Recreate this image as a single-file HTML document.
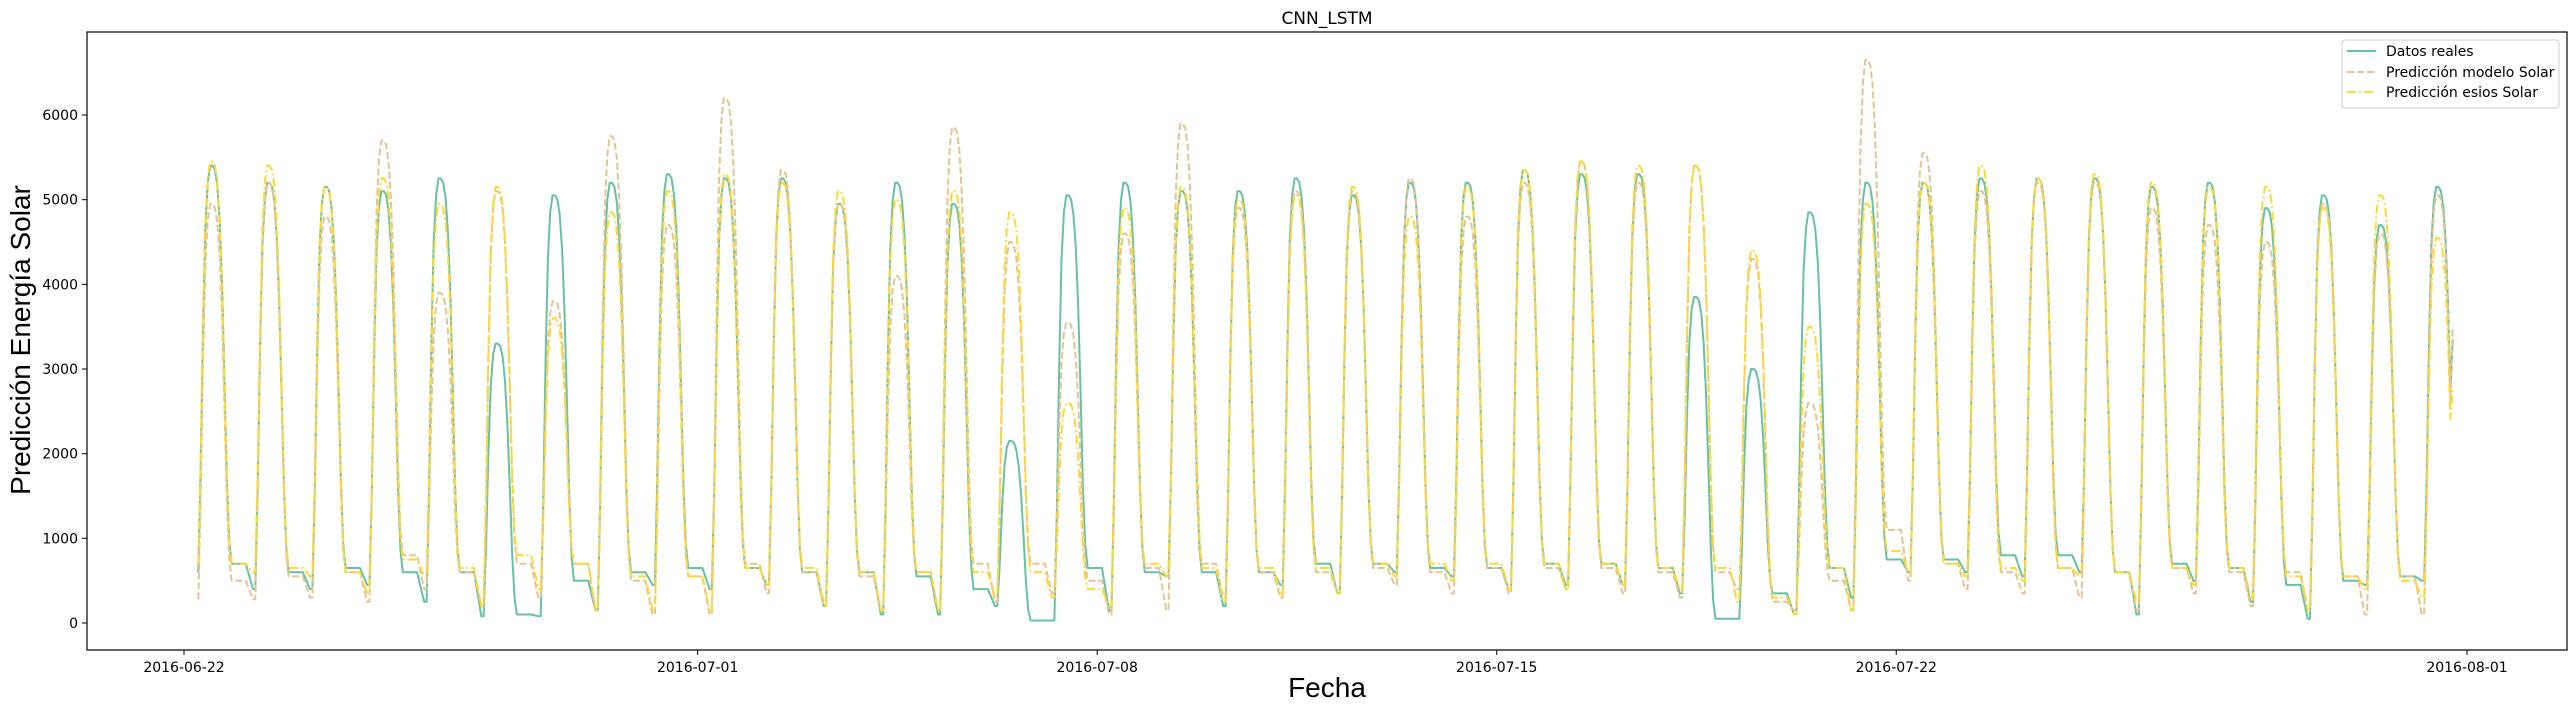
<!DOCTYPE html>
<html><head><meta charset="utf-8"><style>
html,body{margin:0;padding:0;background:#fff;}
svg{display:block;font-family:"DejaVu Sans","Liberation Sans",sans-serif;}
</style></head><body>
<svg id="chart" width="2575" height="711" viewBox="0 0 2575 711" xmlns="http://www.w3.org/2000/svg">
<rect x="0" y="0" width="2575" height="711" fill="#fff"/>
<text x="1327" y="24" font-size="17" text-anchor="middle" fill="#000">CNN_LSTM</text>
<g id="plot"></g>
<g id="axes"></g>
<text transform="translate(30,340) rotate(-90)" font-size="28" text-anchor="middle" font-family="Liberation Sans, sans-serif" fill="#000">Predicción Energía Solar</text>
<text x="1327" y="697" font-size="28" text-anchor="middle" font-family="Liberation Sans, sans-serif" fill="#000">Fecha</text>
<g>
<rect x="2342" y="40" width="217" height="68" rx="3" fill="#fff" fill-opacity="0.8" stroke="#ccc" stroke-width="1"/>
<g><line x1="2347" y1="51" x2="2376" y2="51" stroke="#66c2a5" stroke-width="2"/><text x="2386" y="56" font-size="14">Datos reales</text></g>
<g><line x1="2347" y1="72" x2="2376" y2="72" stroke="#e5c494" stroke-width="2" stroke-dasharray="7,3"/><text x="2386" y="77" font-size="14">Predicción modelo Solar</text></g>
<g><line x1="2347" y1="92" x2="2376" y2="92" stroke="#ffd92f" stroke-width="2" stroke-dasharray="9,3,2,3"/><text x="2386" y="97" font-size="14">Predicción esios Solar</text></g>
</g>
</svg>
<script>
const realPeak  = [5400,5200,5150,5100,5250,3300,5050,5200,5300,5250,5250,4950,5200,4950,2150,5050,5200,5100,5100,5250,5050,5200,5200,5350,5300,5300,3850,3000,4850,5200,5200,5250,5250,5250,5150,5200,4900,5050,4700,5150];
const modelPeak = [4950,5200,4800,5700,3900,5100,3800,5750,4700,6200,5350,4950,4100,5850,4500,3550,4600,5900,4900,5100,5100,5250,4800,5200,5450,5200,5400,4300,2600,6650,5550,5100,5200,5200,4900,4700,4500,4950,4600,5050];
const esiosPeak = [5450,5400,5150,5250,4950,5150,3600,4850,5100,5300,5200,5100,5000,5100,4850,2600,4900,5150,5000,5050,5150,4800,5150,5350,5450,5400,5400,4400,3500,4950,5200,5400,5250,5300,5200,5150,5150,4900,5050,4550];
const realEve   = [700,600,650,600,600,100,500,600,650,650,600,600,550,400,30,650,600,600,600,700,700,650,650,700,700,650,50,350,650,750,750,800,800,600,700,650,450,500,550,600];
const realDawn  = [400,400,450,250,80,80,150,450,400,450,200,100,100,200,30,150,550,200,450,350,600,550,400,450,450,350,50,100,300,600,600,550,600,100,500,250,50,450,500,500];
const modelEve  = [500,550,600,800,600,700,700,500,550,700,600,550,600,700,700,500,650,700,600,600,650,600,650,650,650,600,600,250,500,1100,700,600,650,600,650,600,600,550,550,500];
const modelDawn = [280,300,250,400,200,300,150,100,100,350,250,150,150,250,350,100,150,300,300,350,450,350,350,400,350,300,400,150,150,500,400,350,300,150,350,200,150,100,100,150];
const esiosEve  = [700,650,600,750,650,800,700,550,550,650,650,600,600,600,600,400,700,650,650,650,700,700,700,700,700,650,650,300,650,850,700,650,650,600,650,650,550,550,500,500];
const esiosDawn = [600,550,350,550,200,400,150,150,150,450,200,150,150,300,300,200,550,250,350,350,550,500,400,400,450,400,250,100,150,600,550,500,550,250,450,300,150,400,300,300];
const endReal = 3350, endModel = 3500, endEsios = 2750;
const startReal = 600, startModel = 280, startEsios = 700;
const tickDates = ["2016-06-22","2016-07-01","2016-07-08","2016-07-15","2016-07-22","2016-08-01"];
const tickDays = [0,9,16,23,30,40];
const yTicks = [0,1000,2000,3000,4000,5000,6000];

const L=87,R=2567,T=32,B=650;
const X0=184, PXDAY=(2467-184)/40;
const xs = d => X0 + d*PXDAY;
const ys = v => 623 - v*(623-115)/6000;
const NS="http://www.w3.org/2000/svg";
const plot=document.getElementById('plot'), axes=document.getElementById('axes');
// diurnal shape template (fraction of daily amplitude by hour)
const prof={6:0,7:0.25,8:0.6,9:0.85,10:0.96,11:1.0,12:1.0,13:0.99,14:0.95,15:0.86,16:0.7,17:0.47,18:0.22,19:0.06,20:0};
function series(peak,eve,dawn,startV,endV){
  const pts=[];
  for(let h=6; h<=39*24+18; h++){
    const d=Math.floor(h/24), hr=h%24;
    let v;
    if(hr>=6 && hr<=20){
      const pd = d>0 ? dawn[d-1] : startV;
      const base = hr<=12 ? pd : eve[d];
      v = base + (peak[d]-base)*prof[hr];
    } else if(hr>20){ v=eve[d]; }
    else { const pe=d>0?eve[d-1]:startV, pw=d>0?dawn[d-1]:startV; v = hr<3?pe : pe+(pw-pe)*(hr-2)/3; }
    if(h===39*24+18) v=endV;
    pts.push([xs(h/24),ys(v)]);
  }
  return pts;
}
function draw(pts,color,dash,name){
  const p=document.createElementNS(NS,'polyline');
  p.setAttribute('points',pts.map(q=>q[0].toFixed(1)+','+q[1].toFixed(1)).join(' '));
  p.setAttribute('fill','none');p.setAttribute('stroke',color);p.setAttribute('stroke-width','2');
  p.setAttribute('stroke-linejoin','round');
  if(dash)p.setAttribute('stroke-dasharray',dash);
  
  
  plot.appendChild(p);
}
draw(series(realPeak,realEve,realDawn,startReal,endReal),'#66c2a5',null,'line-datos-reales');
draw(series(modelPeak,modelEve,modelDawn,startModel,endModel),'#e5c494','7,3','line-modelo-solar');
draw(series(esiosPeak,esiosEve,esiosDawn,startEsios,endEsios),'#ffd92f','9,3,2,3','line-esios-solar');
// frame
const fr=document.createElementNS(NS,'rect');
fr.setAttribute('x',L);fr.setAttribute('y',T);fr.setAttribute('width',R-L);fr.setAttribute('height',B-T);
fr.setAttribute('fill','none');fr.setAttribute('stroke','#000');fr.setAttribute('stroke-width','1.2');


axes.appendChild(fr);
yTicks.forEach(v=>{
  const y=ys(v);
  const l=document.createElementNS(NS,'line');
  l.setAttribute('x1',L-5);l.setAttribute('x2',L);l.setAttribute('y1',y);l.setAttribute('y2',y);l.setAttribute('stroke','#000');
  
  
  axes.appendChild(l);
  const t=document.createElementNS(NS,'text');
  t.setAttribute('x',L-9);t.setAttribute('y',y+5);t.setAttribute('text-anchor','end');t.setAttribute('font-size','14');
  t.textContent=v;
  
  
  axes.appendChild(t);
});
tickDates.forEach((s,i)=>{
  const x=xs(tickDays[i]);
  const l=document.createElementNS(NS,'line');
  l.setAttribute('x1',x);l.setAttribute('x2',x);l.setAttribute('y1',B);l.setAttribute('y2',B+5);l.setAttribute('stroke','#000');
  
  
  axes.appendChild(l);
  const t=document.createElementNS(NS,'text');
  t.setAttribute('x',x);t.setAttribute('y',B+22);t.setAttribute('text-anchor','middle');t.setAttribute('font-size','14');
  t.textContent=s;
  
  
  axes.appendChild(t);
});
</script>
</body></html>
